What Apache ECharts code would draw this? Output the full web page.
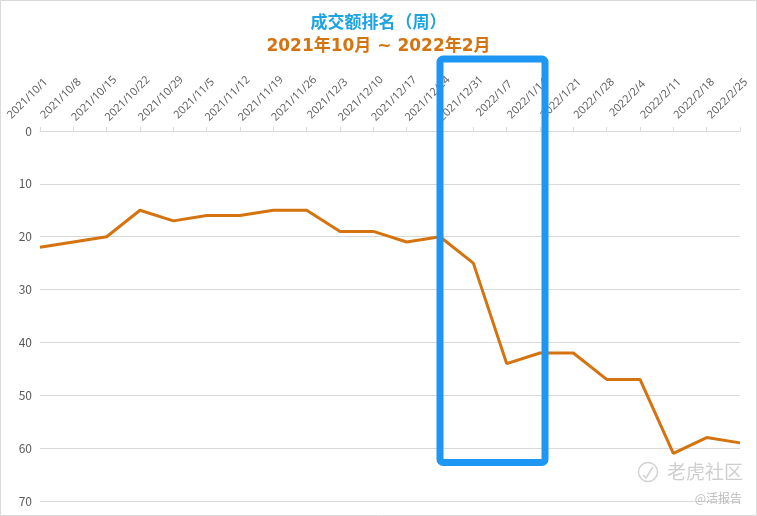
<!DOCTYPE html>
<html><head><meta charset="utf-8">
<script src="https://cdn.jsdelivr.net/npm/echarts@6/dist/echarts.min.js"></script>
<style>html,body{margin:0;padding:0;background:#fff}#c{width:757px;height:516px}</style>
</head><body><div id="c"></div>
<script>
const categories = ['2021/10/1','2021/10/8','2021/10/15','2021/10/22','2021/10/29','2021/11/5','2021/11/12','2021/11/19','2021/11/26','2021/12/3','2021/12/10','2021/12/17','2021/12/24','2021/12/31','2022/1/7','2022/1/14','2022/1/21','2022/1/28','2022/2/4','2022/2/11','2022/2/18','2022/2/25'];
const ranks = [22,21,20,15,17,16,16,15,15,19,19,21,20,25,44,42,42,47,47,61,58,59];
const yTicks = [0,10,20,30,40,50,60,70];
const highlightFrom = '2021/12/24';
const highlightTo = '2022/1/14';

const chart = echarts.init(document.getElementById('c'));
const font = '"Noto Sans CJK SC", "Noto Sans", sans-serif';
chart.setOption({
  animation: false,
  backgroundColor: '#fff',
  title: [
    {text: '成交额排名（周）', left: 'center', top: 8, textStyle: {color: '#1ea3e2', fontSize: 17, fontWeight: 'bold', fontFamily: font}},
    {text: '2021年10月 ~ 2022年2月', left: 'center', top: 33, textStyle: {color: '#d4730f', fontSize: 17, fontWeight: 'bold', fontFamily: '"DejaVu Sans", "Noto Sans CJK SC", sans-serif'}}
  ],
  grid: {left: 40, right: 17, top: 131, bottom: 15, outerBoundsMode: 'none', containLabel: false},
  xAxis: {
    type: 'category', data: categories, position: 'top', boundaryGap: false,
    axisLine: {lineStyle: {color: '#d9d9d9'}},
    axisTick: {show: true, length: 4, lineStyle: {color: '#d9d9d9'}},
    axisLabel: {rotate: 45, interval: 0, hideOverlap: false, color: '#595959', fontSize: 11, fontFamily: '"Open Sans", "Noto Sans", sans-serif',
      align: 'center', verticalAlign: 'middle', margin: 20,
      formatter: v => '{a|' + v + '}\n{b| }',
      rich: {a: {lineHeight: 14, fontSize: 11, color: '#595959'}, b: {lineHeight: 35, fontSize: 11}}}
  },
  yAxis: {
    type: 'value', inverse: true, min: yTicks[0], max: yTicks[yTicks.length-1], interval: 10,
    axisLine: {show: false}, axisTick: {show: false},
    axisLabel: {color: '#595959', fontSize: 12, fontFamily: font, margin: 8},
    splitLine: {lineStyle: {color: '#d9d9d9'}}
  },
  series: [{
    type: 'line', data: ranks, symbol: 'none',
    lineStyle: {color: '#d4730f', width: 3}
  }]
});

const xl = chart.convertToPixel({xAxisIndex: 0}, highlightFrom);
const xr = chart.convertToPixel({xAxisIndex: 0}, highlightTo) + 5;
const yb = chart.convertToPixel({yAxisIndex: 0}, 62.7);
const yt = 59;
chart.setOption({
  graphic: [
    {type: 'rect', shape: {x: 0.5, y: 0.5, width: 756, height: 515}, style: {fill: 'none', stroke: '#d9d9d9', lineWidth: 1}, silent: true},
    {type: 'rect', shape: {x: xl, y: yt, width: xr - xl, height: yb - yt, r: 3}, style: {fill: 'none', stroke: '#1e96f3', lineWidth: 7}, z: 100},
    {type: 'circle', shape: {cx: 648, cy: 472, r: 9.5}, style: {fill: 'none', stroke: '#d3d3d3', lineWidth: 1.5}, z: 50},
    {type: 'polyline', shape: {points: [[643, 475], [646, 478], [653, 467]]}, style: {fill: 'none', stroke: '#d3d3d3', lineWidth: 1.5}, z: 50},
    {type: 'text', style: {x: 667, y: 472, text: '老虎社区', fill: '#cfcfcf', font: '19px ' + font, verticalAlign: 'middle'}, z: 50},
    {type: 'text', style: {x: 742, y: 498, text: '@活报告', fill: '#bdbdbd', font: '12px ' + font, align: 'right', verticalAlign: 'middle'}, z: 50}
  ]
});
</script></body></html>
